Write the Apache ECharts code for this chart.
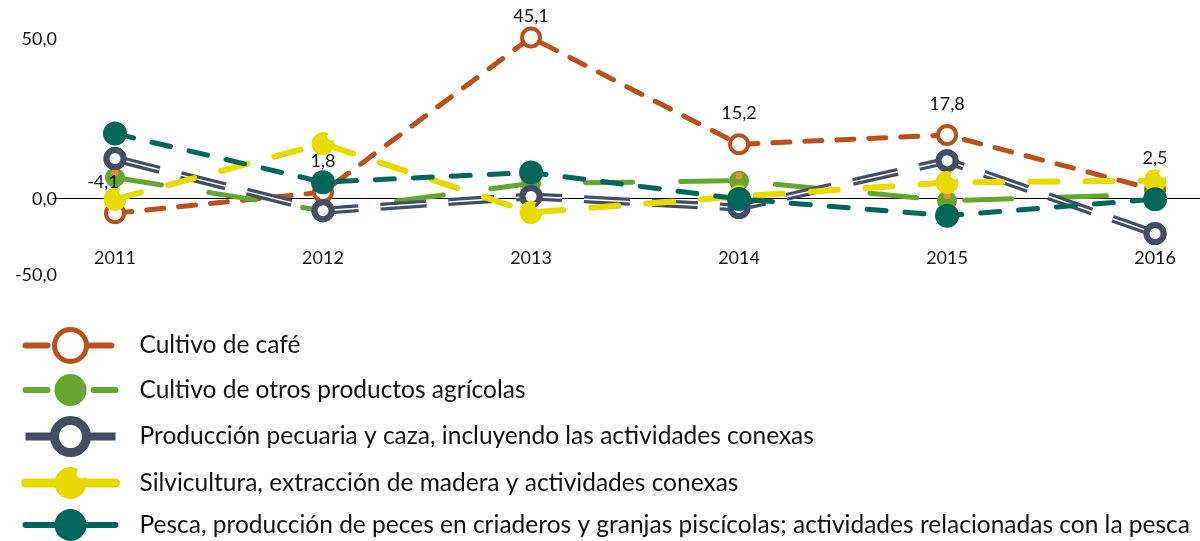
<!DOCTYPE html>
<html><head><meta charset="utf-8">
<script src="https://cdn.jsdelivr.net/npm/echarts@6/dist/echarts.min.js"></script>
<style>html,body{margin:0;padding:0;background:#fff}#c{width:1200px;height:541px}</style>
</head><body><div id="c"></div>
<script>
const years = [2011, 2012, 2013, 2014, 2015, 2016];
const seriesNames = [
  'Cultivo de café',
  'Cultivo de otros productos agrícolas',
  'Producción pecuaria y caza, incluyendo las actividades conexas',
  'Silvicultura, extracción de madera y actividades conexas',
  'Pesca, producción de peces en criaderos y granjas piscícolas; actividades relacionadas con la pesca'
];
const cafe = [-4.1, 1.8, 45.1, 15.2, 17.8, 2.5];
const otros = [5.9, -3.4, 4.2, 5.0, -0.6, 1.2];
const pecuaria = [11.2, -3.4, 0.6, -2.5, 10.6, -9.8];
const silvicultura = [-0.2, 15.4, -3.9, 0.6, 4.5, 5.0];
const pesca = [18.2, 4.6, 7.3, -0.1, -4.8, -0.2];
const yTickLabels = ['50,0', '0,0', '-50,0'];

const C_ORANGE = '#B9511B', C_GREEN = '#64A630', C_SLATE = '#434D63', C_YELLOW = '#E8DA00', C_TEAL = '#00665A', C_DOT = '#F08A2E';
const FONT = 'Lato';
const pts = arr => arr.map((v, i) => [years[i], v]);
const fmt = v => v.toFixed(1).replace('.', ',');
const biteCircle = 'path://M19.27 6.25 A10 10 0 1 1 15.12 1.41 A3.2 3.2 0 1 0 19.27 6.25 Z';

const styles = [
  {line: {color: C_ORANGE, width: 5, type: [17, 15], cap: 'round'}, item: {color: '#fff', borderColor: C_ORANGE, borderWidth: 4}},
  {line: {color: C_GREEN, width: 5, type: [47, 48], cap: 'round'}, item: {color: C_GREEN}},
  {line: {color: C_SLATE, width: 8, type: [46, 22], cap: 'butt'}, item: {color: '#fff', borderColor: C_SLATE, borderWidth: 6}},
  {line: {color: C_YELLOW, width: 6, type: [27, 28], cap: 'round'}, item: {color: C_YELLOW}},
  {line: {color: C_TEAL, width: 5, type: [19, 19], cap: 'round'}, item: {color: C_TEAL}}
];
const legendStyles = [
  {line: {color: C_ORANGE, width: 6, type: [22, 10], cap: 'round'}, item: {color: '#fff', borderColor: C_ORANGE, borderWidth: 5}},
  {line: {color: C_GREEN, width: 6, type: [22, 12], cap: 'round'}, item: {color: C_GREEN}},
  {line: {color: C_SLATE, width: 8, type: 'solid', cap: 'butt'}, item: {color: '#fff', borderColor: C_SLATE, borderWidth: 9}},
  {line: {color: C_YELLOW, width: 9, type: [40, 14], cap: 'round'}, item: {color: C_YELLOW}},
  {line: {color: C_TEAL, width: 6, type: 'solid', cap: 'round'}, item: {color: C_TEAL}}
];

const chart = echarts.init(document.getElementById('c'), null, {renderer: 'canvas'});
const xBase = {type: 'value', min: 2010.702, max: 2016.216, splitLine: {show: false}, axisTick: {show: false}};
chart.setOption({
  animation: false,
  backgroundColor: '#fff',
  textStyle: {fontFamily: FONT},
  grid: {left: 53, right: 0, top: 20, height: 250},
  xAxis: [
    Object.assign({}, xBase, {
      position: 'bottom', offset: -23,
      axisLine: {show: false, onZero: false},
      axisLabel: {show: true, margin: 2, fontSize: 18, color: '#111', fontFamily: FONT,
        showMinLabel: false, showMaxLabel: false,
        formatter: v => Number.isInteger(v) ? String(v) : ''}
    }),
    Object.assign({}, xBase, {
      position: 'top',
      axisLine: {show: true, onZero: true, lineStyle: {color: '#000', width: 1.2}},
      axisLabel: {show: false}
    })
  ],
  yAxis: {type: 'value', min: -20, max: 50, show: false, splitLine: {show: false}},
  graphic: yTickLabels.map((t, i) => ({
    type: 'text', right: 1200 - 57, top: [30, 190, 266][i],
    style: {text: t, font: '18px ' + FONT, fill: '#111', textAlign: 'right'}
  })),
  legend: {
    orient: 'vertical', left: 21, top: 327, height: 300, padding: 0,
    itemWidth: 90, itemHeight: 40, itemGap: 10,
    data: seriesNames.map((n, i) => ({name: n, lineStyle: legendStyles[i].line, itemStyle: legendStyles[i].item})),
    textStyle: {fontSize: 24.5, lineHeight: 30, color: '#111', fontFamily: FONT, padding: [0, 0, 0, 19]}
  },
  series: [
    {
      name: seriesNames[0], type: 'line', color: C_ORANGE,
      data: cafe.map((v, i) => ({value: [years[i], v],
        label: v > 40 ? {distance: 1} : (v < 0 ? {offset: [-12, 0]} : undefined)})),
      symbol: 'circle', symbolSize: 18,
      itemStyle: styles[0].item, lineStyle: styles[0].line,
      label: {show: true, position: 'top', distance: 11, fontSize: 18, color: '#111', fontFamily: FONT,
        formatter: p => fmt(p.value[1])}
    },
    {
      name: seriesNames[1], type: 'line', color: C_GREEN, data: pts(otros),
      symbol: 'circle', symbolSize: 20,
      itemStyle: styles[1].item, lineStyle: styles[1].line
    },
    {
      name: 'otros-dot', type: 'line', data: pts(otros), symbol: 'circle', symbolSize: 7,
      symbolOffset: [0, -5], itemStyle: {color: C_DOT}, lineStyle: {width: 0, opacity: 0}
    },
    {
      name: seriesNames[2], type: 'line', color: C_SLATE, data: pts(pecuaria),
      symbol: 'circle', symbolSize: 17,
      itemStyle: styles[2].item, lineStyle: styles[2].line
    },
    {
      name: 'pecuaria-inner', type: 'line', data: pts(pecuaria), symbol: 'none',
      lineStyle: {color: '#fff', width: 1.5, type: [46, 22], cap: 'butt'}
    },
    {
      name: 'pecuaria-marks', type: 'line', data: pts(pecuaria),
      symbol: 'circle', symbolSize: 17,
      itemStyle: styles[2].item, lineStyle: {width: 0, opacity: 0}
    },
    {
      name: seriesNames[3], type: 'line', color: C_YELLOW, data: pts(silvicultura),
      symbol: biteCircle, symbolSize: 23,
      itemStyle: styles[3].item, lineStyle: styles[3].line
    },
    {
      name: seriesNames[4], type: 'line', color: C_TEAL, data: pts(pesca),
      symbol: 'circle', symbolSize: 24,
      itemStyle: styles[4].item, lineStyle: styles[4].line
    }
  ]
});
</script></body></html>
